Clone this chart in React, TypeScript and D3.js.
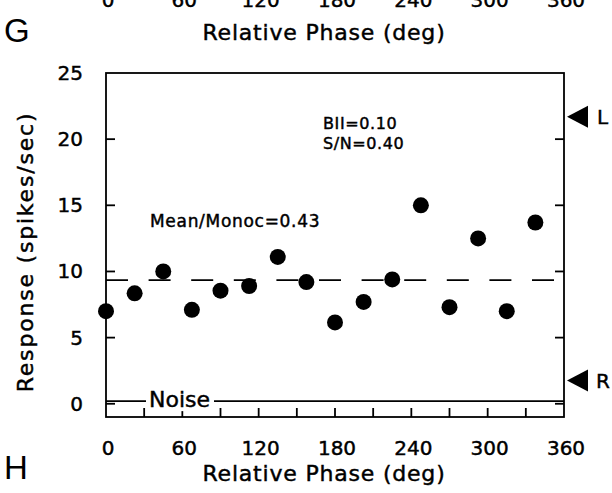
import React from "react";
import * as d3 from "d3";

// ---- data ----
const phases = [0, 22.5, 45, 67.5, 90, 112.5, 135, 157.5, 180, 202.5, 225, 247.5, 270, 292.5, 315, 337.5];
const responses = [7.0, 8.35, 10.0, 7.1, 8.55, 8.9, 11.1, 9.2, 6.15, 7.7, 9.4, 15.0, 7.3, 12.5, 7.0, 13.7];
const meanResponse = 9.35;
const noiseLevel = 0.2;
const leftEyeLevel = 21.7;
const rightEyeLevel = 1.75;
const xTickLabels = [0, 60, 120, 180, 240, 300, 360];
const xMinorTicks = [30, 60, 90, 120, 150, 180, 210, 240, 270, 300, 330];
const yTickLabels = [0, 5, 10, 15, 20, 25];
const yTicks = [0, 5, 10, 15, 20];
const annotations = ["BII=0.10", "S/N=0.40"];
const ratioLabel = "Mean/Monoc=0.43";

const FONT = "'DejaVu Sans', Verdana, sans-serif";
const PANEL_FONT = "'Liberation Sans', Arial, sans-serif";

export default function App() {
  const W = 612;
  const H = 493;
  const x = d3.scaleLinear().domain([0, 360]).range([106, 564]);
  const y = d3.scaleLinear().domain([-1, 25]).range([417, 73]);
  const x0 = x(0), x1 = x(360), yTop = y(25), yBot = y(-1);
  const sw = 1.8;
  const tickLen = 9;
  const heavy = { stroke: "#000", strokeWidth: 0.45 };

  const arrow = (v: number) => {
    const cy = y(v);
    const tip = x1 + 3;
    return `M${tip},${cy} L${tip + 21},${cy - 11} L${tip + 21},${cy + 11} Z`;
  };

  return (
    <svg width={W} height={H} style={{ position: "absolute", left: 0, top: 0, background: "#fff" }}>
      <rect x={0} y={0} width={W} height={H} fill="#fff" />
      {/* cut-off elements of the panel above (the reference shows them cropped) */}
      {xTickLabels.map((t) => (
        <text key={"tt" + t} x={x(t) + 2} y={7} fontFamily={FONT} fontSize={20} textAnchor="middle" fill="#000" {...heavy}>
          {t}
        </text>
      ))}
      <text x={324} y={40} fontFamily={FONT} fontSize={22} letterSpacing={0.8} textAnchor="middle" fill="#000" {...heavy}>
        Relative Phase (deg)
      </text>
      <text x={4} y={42} fontFamily={PANEL_FONT} fontSize={33} fill="#000">
        G
      </text>

      {/* frame */}
      <rect x={x0} y={yTop} width={x1 - x0} height={yBot - yTop} fill="none" stroke="#000" strokeWidth={sw} />

      {/* y ticks on both sides */}
      {yTicks.map((t) => (
        <g key={"yt" + t}>
          <line x1={x0} x2={x0 + tickLen} y1={y(t)} y2={y(t)} stroke="#000" strokeWidth={sw} />
          <line x1={x1} x2={x1 - tickLen} y1={y(t)} y2={y(t)} stroke="#000" strokeWidth={sw} />
        </g>
      ))}
      {/* x ticks */}
      {xMinorTicks.map((t) => (
        <line key={"xt" + t} x1={x(t)} x2={x(t)} y1={yBot} y2={yBot - tickLen} stroke="#000" strokeWidth={sw} />
      ))}

      {/* mean dashed line */}
      <line
        x1={x0}
        x2={x1}
        y1={y(meanResponse)}
        y2={y(meanResponse)}
        stroke="#000"
        strokeWidth={sw}
        strokeDasharray="22 20.6"
      />

      {/* noise line */}
      <line x1={x0} x2={x1} y1={y(noiseLevel)} y2={y(noiseLevel)} stroke="#000" strokeWidth={sw} />
      <rect x={146} y={y(noiseLevel) - 14} width={68} height={24} fill="#fff" />
      <text x={149} y={407} fontFamily={FONT} fontSize={22} fill="#000" {...heavy}>
        Noise
      </text>

      {/* data points */}
      {phases.map((p, i) => (
        <circle key={"pt" + i} cx={x(p)} cy={y(responses[i])} r={8} fill="#000" />
      ))}

      {/* annotations */}
      {annotations.map((a, i) => (
        <text key={"an" + i} x={323} y={129 + i * 20} fontFamily={FONT} fontSize={16} letterSpacing={0.6} fill="#000" {...heavy}>
          {a}
        </text>
      ))}
      <text x={150} y={227} fontFamily={FONT} fontSize={17} letterSpacing={0.7} fill="#000" {...heavy}>
        {ratioLabel}
      </text>

      {/* eye markers */}
      <path d={arrow(leftEyeLevel)} fill="#000" />
      <text x={597} y={y(leftEyeLevel) + 7.5} fontFamily={FONT} fontSize={20} fill="#000" {...heavy}>
        L
      </text>
      <path d={arrow(rightEyeLevel)} fill="#000" />
      <text x={596} y={y(rightEyeLevel) + 7.5} fontFamily={FONT} fontSize={20} fill="#000" {...heavy}>
        R
      </text>

      {/* y tick labels */}
      {yTickLabels.map((t) => (
        <text key={"yl" + t} x={83} y={y(t) + 7} fontFamily={FONT} fontSize={20} textAnchor="end" fill="#000" {...heavy}>
          {t}
        </text>
      ))}
      {/* x tick labels */}
      {xTickLabels.map((t) => (
        <text key={"xl" + t} x={x(t) + 2} y={455} fontFamily={FONT} fontSize={20} textAnchor="middle" fill="#000" {...heavy}>
          {t}
        </text>
      ))}

      {/* axis titles */}
      <text x={324} y={481} fontFamily={FONT} fontSize={22} letterSpacing={0.8} textAnchor="middle" fill="#000" {...heavy}>
        Relative Phase (deg)
      </text>
      <text
        transform={`translate(33,252) rotate(-90)`}
        fontFamily={FONT}
        fontSize={22}
        letterSpacing={1.8}
        textAnchor="middle"
        fill="#000"
        {...heavy}
      >
        Response (spikes/sec)
      </text>
      <text x={4} y={479} fontFamily={PANEL_FONT} fontSize={33} fill="#000">
        H
      </text>
    </svg>
  );
}
